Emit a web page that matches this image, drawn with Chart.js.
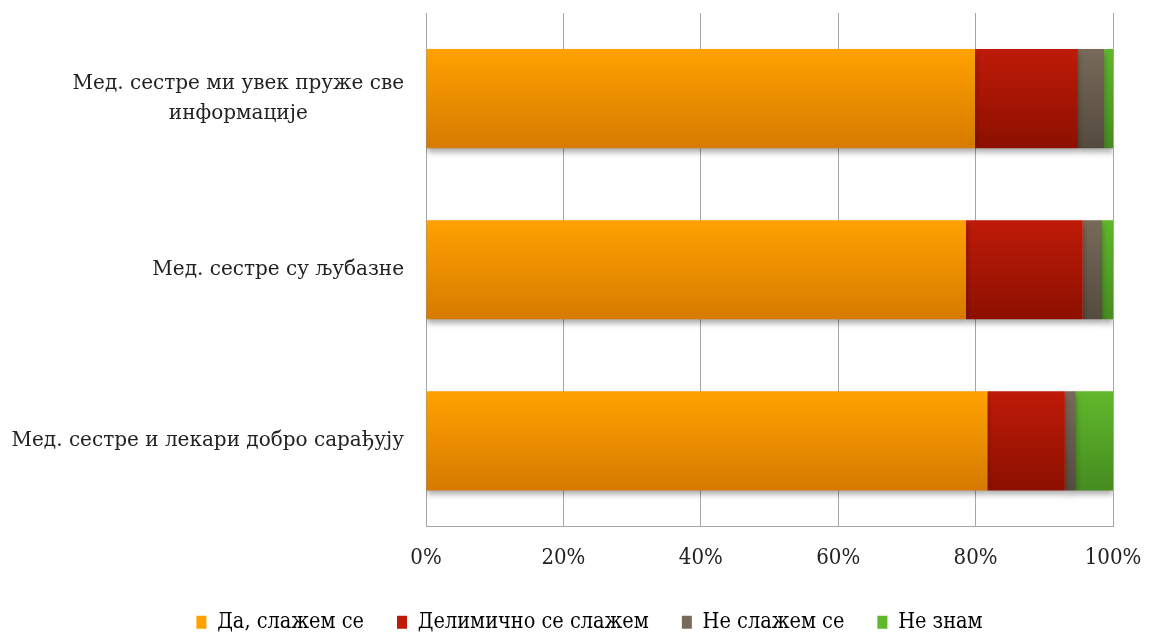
<!DOCTYPE html>
<html>
<head>
<meta charset="utf-8">
<script src="https://cdn.jsdelivr.net/npm/chart.js@4.4.0/dist/chart.umd.min.js"></script>
<style>
  html, body { margin: 0; padding: 0; background: #fff; }
  #wrap { width: 1150px; height: 632px; position: relative; }
</style>
</head>
<body>
<div id="wrap"><canvas id="chart" width="1150" height="632"></canvas></div>
<script>
// Survey statements (top to bottom)
const statements = [
  ['Мед. сестре ми увек пруже све', 'информације'],
  'Мед. сестре су љубазне',
  'Мед. сестре и лекари добро сарађују'
];

// Answer shares in percent
const agree = [79.9, 78.6, 81.7];
const partly = [15.0, 17.0, 11.3];
const disagree = [3.8, 2.8, 1.6];
const dontKnow = [1.3, 1.6, 5.4];

const answerLabels = ['Да, слажем се', 'Делимично се слажем', 'Не слажем се', 'Не знам'];
const tickLabels = ['0%', '20%', '40%', '60%', '80%', '100%'];

const condensed = '"DejaVu Serif Condensed", "DejaVu Serif", serif';

// top / bottom colours of each series gradient
const shades = [
  ['#ffa200', '#d67a00'],
  ['#bf1a08', '#8c1000'],
  ['#776a5a', '#544a3e'],
  ['#60b82c', '#468c20']
];

function barGradient(idx) {
  return function(context) {
    const chart = context.chart;
    const yScale = chart.scales.y;
    if (!chart.chartArea || !yScale) return shades[idx][0];
    const center = yScale.getPixelForValue(context.dataIndex);
    const half = 49.5;
    const g = chart.ctx.createLinearGradient(0, center - half, 0, center + half);
    g.addColorStop(0, shades[idx][0]);
    g.addColorStop(1, shades[idx][1]);
    return g;
  };
}

// soft shadow under the bars
const barShadow = {
  id: 'barShadow',
  beforeDatasetsDraw(chart) {
    const ctx = chart.ctx;
    ctx.save();
    ctx.shadowColor = 'rgba(0,0,0,0.35)';
    ctx.shadowBlur = 6;
    ctx.shadowOffsetY = 4;
  },
  afterDatasetsDraw(chart) {
    chart.ctx.restore();
  }
};

// centre the legend row on the whole page width, not just the plot side
const legendShift = {
  id: 'legendShift',
  afterLayout(chart) {
    chart.legend.left += 33;
    chart.legend.right += 33;
  }
};

// category labels: block right aligned, lines centred within the block
const categoryLabels = {
  id: 'categoryLabels',
  afterDraw(chart) {
    const ctx = chart.ctx;
    const yScale = chart.scales.y;
    ctx.save();
    ctx.font = '20px "DejaVu Serif", serif';
    ctx.fillStyle = '#222';
    ctx.textAlign = 'center';
    ctx.textBaseline = 'middle';
    const right = 404;
    const lineH = 30;
    statements.forEach((label, i) => {
      const lines = Array.isArray(label) ? label : [label];
      const w = Math.max(...lines.map(l => ctx.measureText(l).width));
      const cx = right - w / 2;
      const cy = yScale.getPixelForValue(i);
      const top = cy - (lines.length - 1) * lineH / 2;
      lines.forEach((l, j) => ctx.fillText(l, cx, top + j * lineH));
    });
    ctx.restore();
  }
};

const seriesData = [agree, partly, disagree, dontKnow];

new Chart(document.getElementById('chart'), {
  type: 'bar',
  data: {
    labels: statements,
    datasets: seriesData.map((d, i) => ({
      label: answerLabels[i],
      data: d,
      backgroundColor: barGradient(i),
      borderWidth: 0,
      barPercentage: 1,
      categoryPercentage: 0.579
    }))
  },
  options: {
    indexAxis: 'y',
    responsive: false,
    animation: false,
    devicePixelRatio: 1,
    layout: { padding: { left: 0, right: 37, top: 13, bottom: -11 } },
    scales: {
      x: {
        stacked: true,
        min: 0,
        max: 100,
        ticks: {
          stepSize: 20,
          padding: 19,
          color: '#222',
          font: { family: condensed, size: 22 },
          callback: (v, i) => tickLabels[i]
        },
        grid: { color: '#a6a6a6', lineWidth: 1, drawTicks: false },
        border: { color: '#a6a6a6', width: 1 },
        afterFit: s => { s.height = 52; s.paddingLeft = 0; s.paddingRight = 0; }
      },
      y: {
        stacked: true,
        ticks: { display: false },
        grid: { display: false, drawTicks: false },
        border: { color: '#a6a6a6', width: 1 },
        afterFit: s => { s.width = 426; s.paddingTop = 0; s.paddingBottom = 0; }
      }
    },
    plugins: {
      legend: {
        position: 'bottom',
        labels: {
          boxWidth: 10,
          boxHeight: 13,
          padding: 33,
          color: '#222',
          font: { family: condensed, size: 21.5 },
          generateLabels: chart => answerLabels.map((t, i) => ({
            text: t,
            fillStyle: shades[i][0],
            strokeStyle: shades[i][0],
            lineWidth: 0,
            datasetIndex: i
          }))
        }
      },
      tooltip: { enabled: false }
    }
  },
  plugins: [barShadow, legendShift, categoryLabels]
});
</script>
</body>
</html>
